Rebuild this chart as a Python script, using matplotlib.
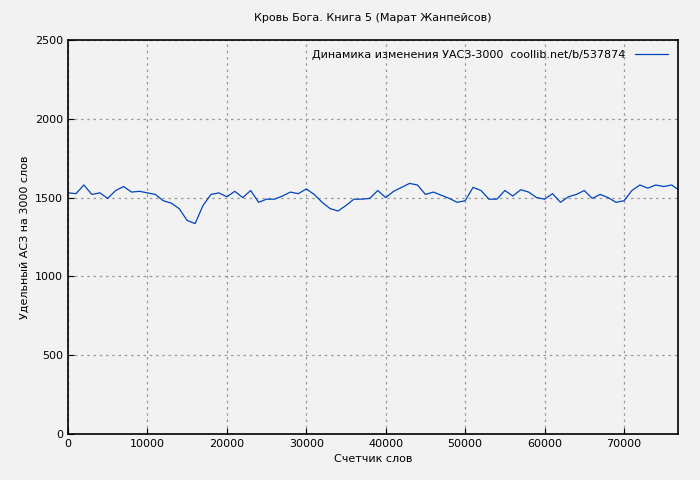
import matplotlib
matplotlib.use("Agg")
import matplotlib.pyplot as plt

words = list(range(0, 78000, 1000))
values = [1530,1525,1580,1520,1530,1495,1545,1570,1535,1540,1530,1520,1480,1465,1430,1355,1335,1450,1520,1530,
          1505,1540,1500,1545,1470,1490,1490,1510,1535,1525,1555,1520,1470,1430,1415,1450,1490,1490,1495,1545,
          1500,1540,1565,1590,1580,1520,1535,1515,1495,1470,1480,1565,1545,1490,1490,1545,1510,1550,1535,1500,
          1490,1525,1470,1505,1520,1545,1495,1520,1500,1470,1480,1545,1580,1560,1580,1570,1580,1545]

fig = plt.figure(figsize=(7, 4.8), dpi=100, facecolor="#f2f2f2")
ax = fig.add_axes([68/700, 46/480, 610/700, 394/480], facecolor="#f2f2f2")
ax.plot(words, values, color="#0044bb", lw=0.9, label="Динамика изменения УАСЗ-3000  coollib.net/b/537874")
ax.set_xlim(0, 76800)
ax.set_ylim(0, 2500)
ax.set_xticks(range(0, 70001, 10000))
ax.set_yticks(range(0, 2501, 500))
ax.grid(True, color="#999999", ls=(0, (2, 3)), lw=0.9)
for s in ax.spines.values():
    s.set_linewidth(1.2)
ax.tick_params(labelsize=8, direction="in", length=4)
ax.set_xlabel("Счетчик слов", fontsize=8)
ax.set_ylabel("Удельный АСЗ на 3000 слов", fontsize=8)
ax.set_title("Кровь Бога. Книга 5 (Марат Жанпейсов)", fontsize=8, pad=14)
leg = ax.legend(loc="upper right", fontsize=8, frameon=False, markerfirst=False, handlelength=3)
fig.savefig("out.png", dpi=100, facecolor=fig.get_facecolor())
